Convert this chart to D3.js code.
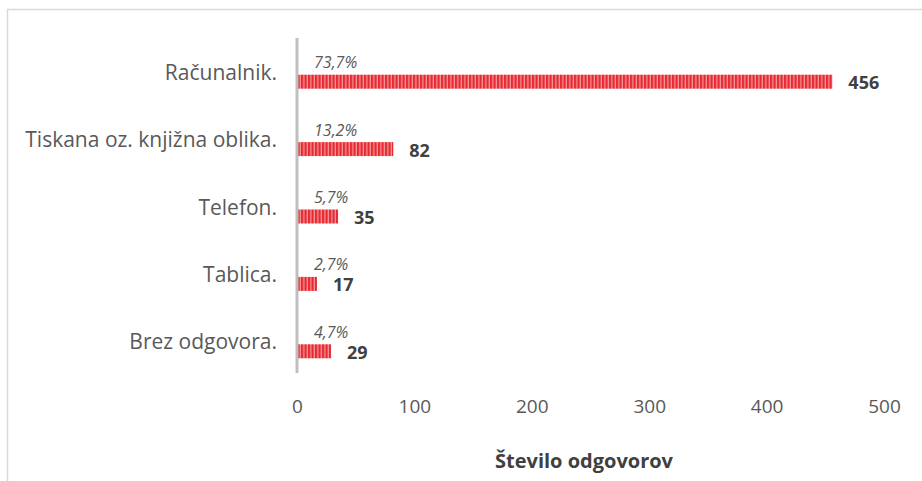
<!DOCTYPE html>
<html>
<head>
<meta charset="utf-8">
<script src="https://cdn.jsdelivr.net/npm/d3@7"></script>
<style>
	body { margin: 0; background: #fff; }
	svg { font-family: "Open Sans", sans-serif; }
</style>
</head>
<body>
<div class="chart"></div>
<script>
const categories = ['Računalnik.', 'Tiskana oz. knjižna oblika.', 'Telefon.', 'Tablica.', 'Brez odgovora.'];
const counts = [456, 82, 35, 17, 29];
const percents = ['73,7%', '13,2%', '5,7%', '2,7%', '4,7%'];
const ticks = [0, 100, 200, 300, 400, 500];
const axisTitle = 'Število odgovorov';

function renderBarChart() {
	const width = 922;
	const height = 481;
	const svg = d3.select('.chart')
				.append('svg')
				.attr('width', width)
				.attr('height', height);

	// frame
	svg.append('rect')
		.attr('x', 7.5)
		.attr('y', 9.5)
		.attr('width', 930)
		.attr('height', 490)
		.attr('fill', 'none')
		.attr('stroke', '#d9d9d9')
		.attr('stroke-width', 1.5);

	// striped fill
	const pat = svg.append('defs').append('pattern')
		.attr('id', 'stripes')
		.attr('patternUnits', 'userSpaceOnUse')
		.attr('width', 3.5)
		.attr('height', 10);
	pat.append('rect').attr('width', 3.5).attr('height', 10).attr('fill', '#f4949a');
	pat.append('rect').attr('width', 2.2).attr('height', 10).attr('fill', '#e62a30');

	const x = d3.scaleLinear().domain([0, 500]).range([297, 884]);
	const y = d3.scaleBand().domain(categories).range([40, 377]).paddingInner(0);

	const data = categories.map((c, i) => ({ cat: c, n: counts[i], pct: percents[i] }));
	const barH = 14;

	svg.selectAll('rect.bar')
		.data(data)
		.enter()
		.append('rect')
		.attr('class', 'bar')
		.attr('x', x(0))
		.attr('y', d => y(d.cat) + y.bandwidth() / 2 + 8 - barH / 2)
		.attr('width', d => x(d.n) - x(0))
		.attr('height', barH)
		.attr('fill', 'url(#stripes)');

	// vertical axis line
	svg.append('line')
		.attr('x1', x(0))
		.attr('x2', x(0))
		.attr('y1', 38)
		.attr('y2', 373)
		.attr('stroke', '#bfbfbf')
		.attr('stroke-width', 3);

	// category labels
	svg.selectAll('text.cat')
		.data(data)
		.enter()
		.append('text')
		.attr('class', 'cat')
		.text(d => d.cat)
		.attr('x', 277)
		.attr('y', d => y(d.cat) + y.bandwidth() / 2 + 6)
		.attr('text-anchor', 'end')
		.attr('fill', '#595959')
		.attr('font-size', '21px');

	// percentages
	svg.selectAll('text.pct')
		.data(data)
		.enter()
		.append('text')
		.attr('class', 'pct')
		.text(d => d.pct)
		.attr('x', x(0) + 17)
		.attr('y', d => y(d.cat) + y.bandwidth() / 2 - 5.5)
		.attr('fill', '#595959')
		.attr('font-style', 'italic')
		.attr('font-size', '16px');

	// counts
	svg.selectAll('text.val')
		.data(data)
		.enter()
		.append('text')
		.attr('class', 'val')
		.text(d => d.n)
		.attr('x', d => x(d.n) + 16)
		.attr('y', d => y(d.cat) + y.bandwidth() / 2 + 15.5)
		.attr('fill', '#404040')
		.attr('font-weight', 'bold')
		.attr('font-size', '18px');

	// x axis
	const axis = svg.append('g')
		.attr('transform', 'translate(0,399)')
		.call(d3.axisBottom(x).tickValues(ticks).tickSize(0).tickPadding(0));
	axis.select('.domain').remove();
	axis.selectAll('text')
		.attr('fill', '#595959')
		.attr('font-size', '19px')
		.attr('font-family', '"Open Sans", sans-serif');

	svg.append('text')
		.text(axisTitle)
		.attr('x', 584)
		.attr('y', 468)
		.attr('text-anchor', 'middle')
		.attr('fill', '#404040')
		.attr('font-weight', 'bold')
		.attr('font-size', '20px');
}

renderBarChart();
</script>
</body>
</html>
